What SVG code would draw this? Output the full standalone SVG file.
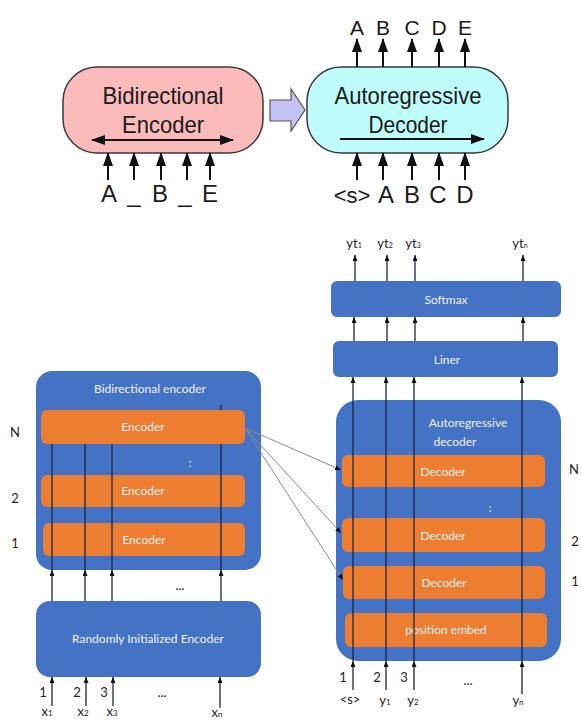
<svg xmlns="http://www.w3.org/2000/svg" width="581" height="720" viewBox="0 0 581 720">
<defs>
<marker id="bigHead" viewBox="0 0 14 10" markerWidth="14" markerHeight="10" refX="13" refY="5" orient="auto-start-reverse" markerUnits="userSpaceOnUse"><path d="M0,0 L14,5 L0,10 z" fill="#111"/></marker>
<marker id="smallHead" viewBox="0 0 6 5" markerWidth="6" markerHeight="5" refX="6" refY="2.5" orient="auto" markerUnits="userSpaceOnUse"><path d="M0,0 L6,2.5 L0,5 z" fill="#111"/></marker>
</defs>
<style>
.top-t{font-family:"Liberation Sans",Arial,sans-serif;fill:#1a1a1a;text-anchor:middle}
.bigarrow{stroke:#111;stroke-width:2;fill:none;marker-end:url(#bigHead)}
.blue{fill:#4472C4}
.orange{fill:#ED7D31}
.wt{font-family:Lato,"Open Sans",sans-serif;fill:#f2f2f2;text-anchor:middle;font-size:12px}
.dk{font-family:Lato,"Open Sans",sans-serif;fill:#222;text-anchor:middle;font-size:13px}
.vline{stroke:#1b2540;stroke-width:1.3;fill:none}
.arr{stroke:#1b2540;stroke-width:1.3;fill:none;marker-end:url(#smallHead)}
.fan{stroke:#8c8c8c;stroke-width:1;fill:none;marker-end:url(#smallHead)}
</style>
<rect width="581" height="720" fill="#ffffff"/>

<!-- Top section -->
<g id="bidirectional-encoder-top">
<rect x="63" y="67" width="200" height="86" rx="34" fill="#FBBBBB" stroke="#3a3a3a" stroke-width="1.5"/>
<text class="top-t" x="163" y="104" font-size="24" textLength="121" lengthAdjust="spacingAndGlyphs">Bidirectional</text>
<text class="top-t" x="163" y="133" font-size="24" textLength="82" lengthAdjust="spacingAndGlyphs">Encoder</text>
<line x1="92" y1="140" x2="233" y2="140" stroke="#111" stroke-width="2" marker-start="url(#bigHead)" marker-end="url(#bigHead)"/>
</g>
<g id="transfer-arrow">
<polygon points="270,100 291,100 291,89 305,110 291,131 291,121 270,121" fill="#C6C2F6" stroke="#555" stroke-width="1.2"/>
</g>
<g id="autoregressive-decoder-top">
<rect x="307" y="67" width="201" height="86" rx="34" fill="#BFFCFC" stroke="#3a3a3a" stroke-width="1.5"/>
<text class="top-t" x="408" y="104" font-size="24" textLength="147" lengthAdjust="spacingAndGlyphs">Autoregressive</text>
<text class="top-t" x="408" y="133" font-size="24" textLength="79" lengthAdjust="spacingAndGlyphs">Decoder</text>
<line x1="340" y1="139" x2="484" y2="139" stroke="#111" stroke-width="2" marker-end="url(#bigHead)"/>
</g>
<g id="top-labels">
<text class="top-t" font-size="24" x="109" y="202">A</text>
<text class="top-t" font-size="24" x="134" y="202">_</text>
<text class="top-t" font-size="24" x="160" y="202">B</text>
<text class="top-t" font-size="24" x="185" y="202">_</text>
<text class="top-t" font-size="24" x="210" y="202">E</text>
<text class="top-t" font-size="22" x="352" y="203">&lt;s&gt;</text>
<text class="top-t" font-size="24" x="386" y="203">A</text>
<text class="top-t" font-size="24" x="412" y="203">B</text>
<text class="top-t" font-size="24" x="438" y="203">C</text>
<text class="top-t" font-size="24" x="465" y="203">D</text>
<text class="top-t" font-size="21" x="357" y="35">A</text>
<text class="top-t" font-size="21" x="383" y="35">B</text>
<text class="top-t" font-size="21" x="412" y="35">C</text>
<text class="top-t" font-size="21" x="439" y="35">D</text>
<text class="top-t" font-size="21" x="465" y="35">E</text>
</g>

<!-- Bottom left -->
<g id="bidirectional-encoder">
<rect class="blue" x="36" y="371" width="225" height="199" rx="16"/>
<text class="wt" x="150" y="393">Bidirectional encoder</text>
</g>
<g id="encoder-n">
<rect class="orange" x="41" y="410" width="204" height="34" rx="6"/>
<text class="wt" x="143" y="431">Encoder</text>
</g>
<text class="wt" x="190" y="467">:</text>
<g id="encoder-2">
<rect class="orange" x="41" y="475" width="204" height="32" rx="6"/>
<text class="wt" x="143" y="495">Encoder</text>
</g>
<g id="encoder-1">
<rect class="orange" x="43" y="523" width="202" height="33" rx="6"/>
<text class="wt" x="144" y="544">Encoder</text>
</g>
<g id="random-init-encoder">
<rect class="blue" x="36" y="601" width="225" height="76" rx="14"/>
<text class="wt" x="148" y="643">Randomly Initialized Encoder</text>
</g>

<!-- Bottom right -->
<g id="softmax">
<rect class="blue" x="331" y="281" width="230" height="36" rx="6"/>
<text class="wt" x="446" y="304">Softmax</text>
</g>
<g id="liner">
<rect class="blue" x="333" y="341" width="225" height="36" rx="6"/>
<text class="wt" x="447" y="364">Liner</text>
</g>
<g id="autoregressive-decoder">
<rect class="blue" x="336" y="400" width="225" height="261" rx="22"/>
<text class="wt" font-size="13" x="468" y="427">Autoregressive</text>
<text class="wt" font-size="13" x="455" y="446">decoder</text>
</g>
<g id="decoder-n">
<rect class="orange" x="342" y="455" width="203" height="32" rx="6"/>
<text class="wt" x="443" y="476">Decoder</text>
</g>
<text class="wt" x="490" y="512">:</text>
<g id="decoder-2">
<rect class="orange" x="342" y="518" width="203" height="34" rx="6"/>
<text class="wt" x="443" y="540">Decoder</text>
</g>
<g id="decoder-1">
<rect class="orange" x="343" y="566" width="202" height="33" rx="6"/>
<text class="wt" x="444" y="587">Decoder</text>
</g>
<g id="position-embed">
<rect class="orange" x="345" y="613" width="202" height="34" rx="6"/>
<text class="wt" x="446" y="634">position embed</text>
</g>

<!-- Connectors -->
<g id="connectors">
<line class="bigarrow" x1="108" y1="180" x2="108" y2="153"/>
<line class="bigarrow" x1="134" y1="180" x2="134" y2="153"/>
<line class="bigarrow" x1="161" y1="180" x2="161" y2="153"/>
<line class="bigarrow" x1="187" y1="180" x2="187" y2="153"/>
<line class="bigarrow" x1="210" y1="180" x2="210" y2="153"/>
<line class="bigarrow" x1="357" y1="180" x2="357" y2="153"/>
<line class="bigarrow" x1="383" y1="180" x2="383" y2="153"/>
<line class="bigarrow" x1="412" y1="180" x2="412" y2="153"/>
<line class="bigarrow" x1="439" y1="180" x2="439" y2="153"/>
<line class="bigarrow" x1="465" y1="180" x2="465" y2="153"/>
<line class="bigarrow" x1="357" y1="67" x2="357" y2="39"/>
<line class="bigarrow" x1="383" y1="67" x2="383" y2="39"/>
<line class="bigarrow" x1="412" y1="67" x2="412" y2="39"/>
<line class="bigarrow" x1="439" y1="67" x2="439" y2="39"/>
<line class="bigarrow" x1="465" y1="67" x2="465" y2="39"/>

<line class="vline" x1="52" y1="444" x2="52" y2="570"/>
<line class="vline" x1="85" y1="444" x2="85" y2="570"/>
<line class="vline" x1="112" y1="444" x2="112" y2="570"/>
<line class="vline" x1="221" y1="444" x2="221" y2="570"/>
<line class="vline" x1="221" y1="405" x2="221" y2="410"/>
<line class="arr" x1="52" y1="601" x2="52" y2="570"/>
<line class="arr" x1="85" y1="601" x2="85" y2="570"/>
<line class="arr" x1="112" y1="601" x2="112" y2="570"/>
<line class="arr" x1="221" y1="601" x2="221" y2="570"/>
<line class="arr" x1="52" y1="706" x2="52" y2="677"/>
<line class="arr" x1="86" y1="706" x2="86" y2="677"/>
<line class="arr" x1="113" y1="706" x2="113" y2="677"/>
<line class="arr" x1="220" y1="708" x2="220" y2="677"/>

<line class="arr" x1="353" y1="690" x2="353" y2="661"/>
<line class="arr" x1="386" y1="690" x2="386" y2="661"/>
<line class="arr" x1="414" y1="690" x2="414" y2="661"/>
<line class="arr" x1="522" y1="694" x2="522" y2="661"/>
<line class="arr" x1="353" y1="661" x2="353" y2="377"/>
<line class="arr" x1="386" y1="661" x2="386" y2="377"/>
<line class="arr" x1="414" y1="661" x2="414" y2="377"/>
<line class="arr" x1="522" y1="661" x2="522" y2="377"/>
<line class="arr" x1="354" y1="341" x2="354" y2="317"/>
<line class="arr" x1="387" y1="341" x2="387" y2="317"/>
<line class="arr" x1="415" y1="341" x2="415" y2="317"/>
<line class="arr" x1="523" y1="341" x2="523" y2="317"/>
<line class="arr" x1="355" y1="281" x2="355" y2="255"/>
<line class="arr" x1="387" y1="281" x2="387" y2="255"/>
<line class="arr" x1="415" y1="281" x2="415" y2="255"/>
<line class="arr" x1="523" y1="281" x2="523" y2="255"/>

<line class="fan" x1="245" y1="428" x2="341" y2="470"/>
<line class="fan" x1="245" y1="428" x2="341" y2="533"/>
<line class="fan" x1="245" y1="428" x2="343" y2="580"/>
</g>

<g id="labels">
<text class="dk" font-size="14" x="15" y="437">N</text>
<text class="dk" font-size="14" x="15" y="503">2</text>
<text class="dk" font-size="14" x="15" y="548">1</text>
<text class="dk" font-size="13" x="574" y="474">N</text>
<text class="dk" font-size="13" x="575" y="546">2</text>
<text class="dk" font-size="13" x="575" y="586">1</text>
<text class="dk" x="180" y="590">...</text>
<text class="dk" x="43" y="697">1</text>
<text class="dk" x="77" y="697">2</text>
<text class="dk" x="104" y="697">3</text>
<text class="dk" x="162" y="697">...</text>
<text class="dk" x="47" y="716">x<tspan font-size="8">1</tspan></text>
<text class="dk" x="83" y="716">x<tspan font-size="8">2</tspan></text>
<text class="dk" x="112" y="716">x<tspan font-size="8">3</tspan></text>
<text class="dk" x="217" y="717">x<tspan font-size="8">n</tspan></text>
<text class="dk" x="343" y="682">1</text>
<text class="dk" x="377" y="682">2</text>
<text class="dk" x="404" y="682">3</text>
<text class="dk" x="468" y="685">...</text>
<text class="dk" font-size="10" x="350" y="704">&lt;s&gt;</text>
<text class="dk" x="385" y="705">y<tspan font-size="8">1</tspan></text>
<text class="dk" x="413" y="705">y<tspan font-size="8">2</tspan></text>
<text class="dk" x="518" y="705">y<tspan font-size="8">n</tspan></text>
<text class="dk" font-size="11" x="354" y="248">yt<tspan font-size="7">1</tspan></text>
<text class="dk" font-size="11" x="385" y="248">yt<tspan font-size="7">2</tspan></text>
<text class="dk" font-size="11" x="413" y="248">yt<tspan font-size="7">3</tspan></text>
<text class="dk" font-size="11" x="520" y="248">yt<tspan font-size="7">n</tspan></text>
</g>
</svg>
